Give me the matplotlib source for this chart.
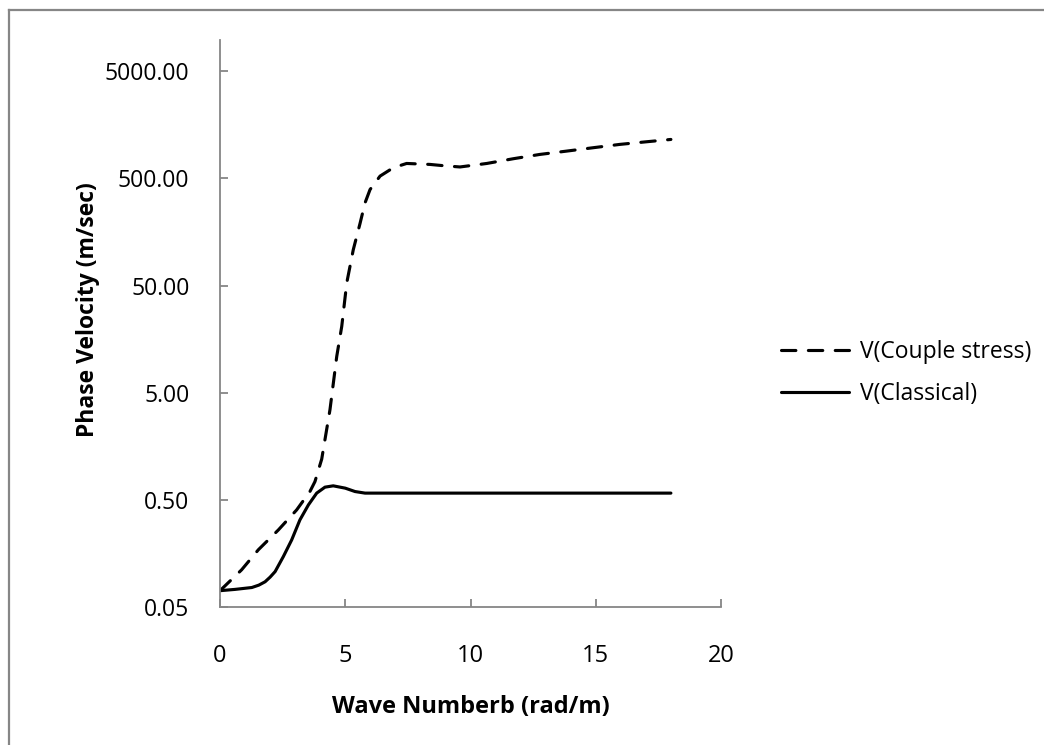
import matplotlib
matplotlib.use("Agg")
import matplotlib.pyplot as plt
from matplotlib.lines import Line2D
from matplotlib.ticker import FixedLocator, FormatStrFormatter

# values (wave number, phase velocity)
k_couple = [0.0, 0.86, 1.53, 2.33, 3.06, 3.59, 3.79, 4.06, 4.39, 4.66, 4.86, 5.06,
            5.32, 5.59, 5.79, 5.99, 6.39, 6.92, 7.45, 8.38, 9.0, 9.58,
            10.65, 11.71, 12.77, 13.84, 14.9, 15.97, 17.03, 18.0]
v_couple = [0.071, 0.111, 0.171, 0.262, 0.403, 0.598, 0.74, 1.2, 3.47, 10.9, 20.8, 53,
            108, 190, 296, 394, 526, 630, 690, 676, 655, 640,
            690, 764, 838, 900, 968, 1040, 1100, 1156]

k_class = [0.0, 0.6, 1.27, 1.55, 1.8, 2.0, 2.2, 2.53, 2.86, 3.19, 3.53, 3.86,
           4.19, 4.52, 5.0, 5.39, 5.79, 6.45, 10.0, 14.0, 18.0]
v_class = [0.071, 0.073, 0.076, 0.080, 0.086, 0.095, 0.107, 0.148, 0.211, 0.325,
           0.449, 0.578, 0.657, 0.676, 0.643, 0.598, 0.578, 0.578, 0.578, 0.578, 0.578]

yticks = [0.05, 0.5, 5, 50, 500, 5000]
xticks = [0, 5, 10, 15, 20]

plt.rcParams['font.family'] = ['Open Sans', 'DejaVu Sans']
grey = '#868686'

fig = plt.figure(figsize=(10.44, 7.45), dpi=100)
ax = fig.add_axes([220/1044, 1-607/745, 501/1044, 567/745])

lw = 2.25
ax.plot(k_couple, v_couple, color='black', lw=lw, dashes=(4.6, 4.0),
        dash_capstyle='round', solid_capstyle='round', solid_joinstyle='round',
        label='V(Couple stress)')
ax.plot(k_class, v_class, color='black', lw=lw, solid_capstyle='round',
        solid_joinstyle='round', label='V(Classical)')

ax.set_yscale('log')
ax.set_ylim(0.05, 9800)
ax.set_xlim(0, 20)
ax.yaxis.set_major_locator(FixedLocator(yticks))
ax.yaxis.set_minor_locator(FixedLocator([]))
ax.yaxis.set_major_formatter(FormatStrFormatter('%.2f'))
ax.set_xticks(xticks)

for s in ['top', 'right']:
    ax.spines[s].set_visible(False)
for s in ['left', 'bottom']:
    ax.spines[s].set_color(grey)
    ax.spines[s].set_linewidth(1.3)
ax.tick_params(direction='in', length=6, width=1.3, color=grey, labelsize=16.5)
ax.tick_params(axis='y', pad=22)
ax.tick_params(axis='x', pad=27, labelsize=17)

ax.set_xlabel('Wave Numberb (rad/m)', fontsize=17, fontweight='bold', labelpad=19)
ax.set_ylabel('Phase Velocity (m/sec)', fontsize=16.5, fontweight='bold', labelpad=0)
ax.yaxis.set_label_coords(-0.24, 0.525)

fig.legend(loc='center left', bbox_to_anchor=(760/1044, 1-373/745), frameon=False,
           fontsize=16.5, handlelength=3.0, handletextpad=0.45, labelspacing=0.75)

# outer chart border (only top and left edges show in the frame)
fig.add_artist(Line2D([9/1044, 1.01], [1-10/745, 1-10/745], color=grey, lw=1.6,
                      transform=fig.transFigure))
fig.add_artist(Line2D([9/1044, 9/1044], [-0.01, 1-10/745], color=grey, lw=1.6,
                      transform=fig.transFigure))

fig.savefig('out.png', dpi=100)
